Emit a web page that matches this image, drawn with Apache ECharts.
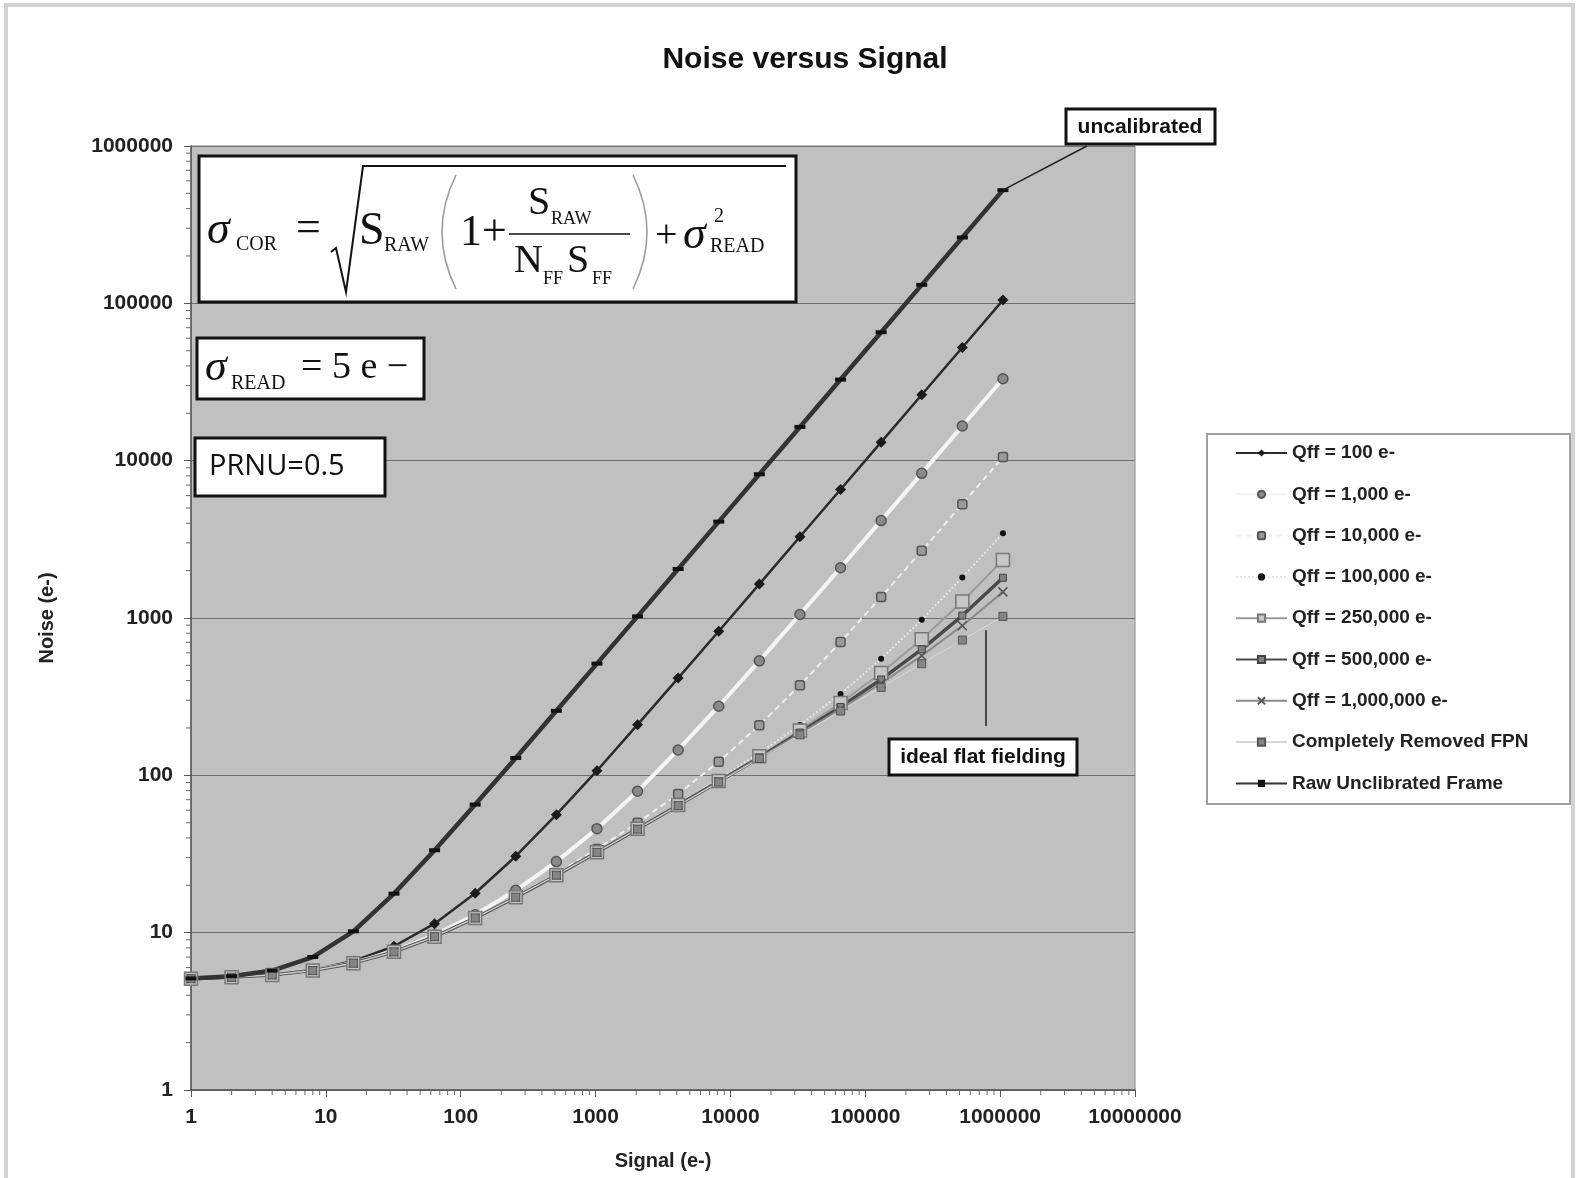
<!DOCTYPE html>
<html>
<head>
<meta charset="utf-8">
<title>Noise versus Signal</title>
<script src="https://cdn.jsdelivr.net/npm/echarts@6/dist/echarts.min.js"></script>
<style>
html, body { margin: 0; padding: 0; background: #fff; }
#main { width: 1581px; height: 1178px; }
</style>
</head>
<body>
<div id="main"></div>
<script>
// signal levels (e-), one point per power of two
const signal = [1, 2, 4, 8, 16, 32, 64, 128, 256, 512, 1024, 2048, 4096, 8192, 16384,
    32768, 65536, 131072, 262144, 524288, 1048576];

// noise (e-)
const qff100 = [5.10, 5.20, 5.40, 5.80, 6.60, 8.20, 11.4, 17.8, 30.6, 56.2, 107, 210, 415, 824, 1643,
    3282, 6559, 13112, 26219, 52434, 104863];
const qff1k = [5.10, 5.20, 5.39, 5.75, 6.42, 7.62, 9.65, 13.0, 18.6, 28.3, 45.8, 79.2, 145, 275, 534,
    1052, 2088, 4161, 8306, 16595, 33175];
const qff10k = [5.10, 5.20, 5.39, 5.75, 6.41, 7.56, 9.46, 12.4, 17.0, 23.7, 34.0, 49.9, 76.2, 122, 208,
    374, 704, 1360, 2671, 5293, 10536];
const qff100k = [5.10, 5.20, 5.39, 5.74, 6.40, 7.55, 9.44, 12.4, 16.8, 23.2, 32.6, 46.0, 65.5, 94.3, 138,
    209, 329, 550, 974, 1809, 3456];
const qff250k = [5.10, 5.20, 5.39, 5.74, 6.40, 7.55, 9.43, 12.4, 16.8, 23.2, 32.5, 45.7, 64.7, 92.1, 132,
    193, 288, 447, 733, 1274, 2334];
const qff500k = [5.10, 5.20, 5.39, 5.74, 6.40, 7.55, 9.43, 12.4, 16.8, 23.2, 32.4, 45.6, 64.5, 91.4, 130,
    187, 272, 407, 632, 1036, 1802];
const qff1m = [5.10, 5.20, 5.39, 5.74, 6.40, 7.55, 9.43, 12.4, 16.8, 23.2, 32.4, 45.6, 64.3, 91.0, 129,
    184, 264, 385, 575, 894, 1466];
const removedFpn = [5.10, 5.20, 5.39, 5.74, 6.40, 7.55, 9.43, 12.4, 16.8, 23.2, 32.4, 45.5, 64.2, 90.6, 128,
    181, 256, 362, 512, 724, 1024];
const rawFrame = [5.12, 5.29, 5.74, 7.00, 10.2, 17.7, 33.4, 65.2, 129, 257, 513, 1024, 2049, 4097, 8193,
    16385, 32769, 65537, 131073, 262145, 524289];

const legendNames = ['Qff = 100 e-', 'Qff = 1,000 e-', 'Qff = 10,000 e-', 'Qff = 100,000 e-',
    'Qff = 250,000 e-', 'Qff = 500,000 e-', 'Qff = 1,000,000 e-', 'Completely Removed FPN',
    'Raw Unclibrated Frame'];

// minor tick positions (2..9 in each decade)
const minorX = [];
for (let d = 0; d < 7; d++) for (let m = 2; m <= 9; m++) minorX.push(m * Math.pow(10, d));
const minorY = [];
for (let d = 0; d < 6; d++) for (let m = 2; m <= 9; m++) minorY.push(m * Math.pow(10, d));

const SANS = '"Liberation Sans", Arial, sans-serif';
const SERIF = '"Liberation Serif", "DejaVu Serif", serif';

const pts = ys => signal.map((s, i) => [s, ys[i]]);

// text helper: y given as baseline
function tx(x, base, str, size, opt) {
    opt = opt || {};
    return {
        type: 'text', x: x, y: base - 0.34 * size, z: 12,
        style: {
            text: str, fontSize: size, fontFamily: opt.family || SERIF,
            fontStyle: opt.italic ? 'italic' : 'normal', fontWeight: opt.bold ? 'bold' : 'normal',
            fill: '#111', align: opt.align || 'left', verticalAlign: 'middle'
        }
    };
}
function box(x, y, w, h, lw) {
    return { type: 'rect', z: 11, shape: { x: x, y: y, width: w, height: h },
        style: { fill: '#fff', stroke: '#111', lineWidth: lw || 3 } };
}

const graphics = [
    { type: 'rect', z: 0, shape: { x: 6, y: 5, width: 1567, height: 1190 },
        style: { fill: 'none', stroke: '#d2d2d2', lineWidth: 4 } },
    // formula
    box(199, 156, 597, 146),
    tx(207, 247, 'σ', 46, { italic: true }),
    tx(236, 252, 'COR', 20),
    tx(296, 244, '=', 44),
    { type: 'polyline', z: 12, shape: { points: [[331, 252], [336, 248], [346, 292], [363, 166], [786, 166]] },
        style: { stroke: '#111', lineWidth: 2, fill: null } },
    tx(359, 248, 'S', 46),
    tx(384, 253, 'RAW', 20),
    { type: 'bezierCurve', z: 12, shape: { x1: 456, y1: 175, x2: 456, y2: 289, cpx1: 428, cpy1: 232 },
        style: { stroke: '#999', lineWidth: 1.5, fill: null } },
    tx(460, 248, '1+', 44),
    tx(528, 217, 'S', 40),
    tx(551, 225, 'RAW', 18),
    { type: 'line', z: 12, shape: { x1: 509, y1: 234, x2: 630, y2: 234 }, style: { stroke: '#111', lineWidth: 1.5 } },
    tx(514, 275, 'N', 40),
    tx(543, 285, 'FF', 18),
    tx(567, 275, 'S', 40),
    tx(592, 285, 'FF', 18),
    { type: 'bezierCurve', z: 12, shape: { x1: 633, y1: 175, x2: 633, y2: 289, cpx1: 661, cpy1: 232 },
        style: { stroke: '#999', lineWidth: 1.5, fill: null } },
    tx(655, 250, '+', 40),
    tx(683, 252, 'σ', 46, { italic: true }),
    tx(714, 224, '2', 20),
    tx(710, 254, 'READ', 20),
    // read noise
    box(197, 338, 227, 61),
    tx(205, 383, 'σ', 44, { italic: true }),
    tx(231, 391, 'READ', 20),
    tx(301, 381, '= 5 e −', 38),
    // PRNU
    box(195, 438, 190, 58),
    tx(209, 477, 'PRNU=0.5', 29, { family: '"Open Sans", sans-serif' }),
    // callouts
    box(1066, 109, 149, 35),
    tx(1140, 134, 'uncalibrated', 21, { family: SANS, bold: true, align: 'center' }),
    box(889, 739, 188, 36),
    tx(983, 764, 'ideal flat fielding', 21, { family: SANS, bold: true, align: 'center' }),
    // legend frame
    { type: 'rect', z: 3, shape: { x: 1207, y: 434, width: 363, height: 370 },
        style: { fill: '#fff', stroke: '#a0a0a0', lineWidth: 2 } }
];

function lineSeries(name, ys, ls, sym) {
    return Object.assign({
        type: 'line', name: name, data: pts(ys), smooth: false, z: 3,
        lineStyle: ls, showSymbol: true, emphasis: { disabled: true }
    }, sym);
}

const series = [
    lineSeries(legendNames[0], qff100, { color: '#2a2a2a', width: 2.5 },
        { symbol: 'diamond', symbolSize: 11, itemStyle: { color: '#1a1a1a' } }),
    lineSeries(legendNames[1], qff1k, { color: '#f4f4f4', width: 4 },
        { symbol: 'circle', symbolSize: 10, itemStyle: { color: '#8a8a8a', borderColor: '#555', borderWidth: 1.5 } }),
    lineSeries(legendNames[2], qff10k, { color: '#efefef', width: 2, type: [6, 4] },
        { symbol: 'roundRect', symbolSize: 9, itemStyle: { color: '#9a9a9a', borderColor: '#555', borderWidth: 1.5 } }),
    lineSeries(legendNames[3], qff100k, { color: '#e6e6e6', width: 2, type: 'dotted' },
        { symbol: 'circle', symbolSize: 6, itemStyle: { color: '#111' } }),
    lineSeries(legendNames[4], qff250k, { color: '#9a9a9a', width: 2 },
        { symbol: 'rect', symbolSize: 13, itemStyle: { color: '#c6c6c6', borderColor: '#777', borderWidth: 1.5 } }),
    lineSeries(legendNames[5], qff500k, { color: '#4a4a4a', width: 3.5 },
        { symbol: 'rect', symbolSize: 7, itemStyle: { color: '#808080', borderColor: '#444', borderWidth: 1 } }),
    lineSeries(legendNames[6], qff1m, { color: '#8a8a8a', width: 2 },
        { symbol: 'path://M0,0L10,10M10,0L0,10', symbolSize: 9,
            itemStyle: { color: '#666', borderColor: '#555', borderWidth: 1.5 } }),
    lineSeries(legendNames[7], removedFpn, { color: '#d8d8d8', width: 1 },
        { symbol: 'rect', symbolSize: 8, itemStyle: { color: '#858585', borderColor: '#555', borderWidth: 1 },
            markLine: { silent: true, symbol: ['none', 'none'], label: { show: false },
                lineStyle: { color: '#222', width: 1.5, type: 'solid' },
                data: [[{ coord: [7.82e5, 835] }, { coord: [7.82e5, 206] }]] } }),
    lineSeries(legendNames[8], rawFrame, { color: '#333', width: 4.5 },
        { symbol: 'rect', symbolSize: [11, 4], itemStyle: { color: '#111' },
            markLine: { silent: true, symbol: ['none', 'none'], label: { show: false },
                lineStyle: { color: '#222', width: 1.5, type: 'solid' },
                data: [[{ coord: [1048576, 524289] }, { coord: [4.4e6, 1e6] }]] } }),
    {
        type: 'custom', name: 'xminor', silent: true, clip: false, z: 1,
        data: minorX.map(v => [v, 1]),
        renderItem: function (params, api) {
            const p = api.coord([api.value(0), 1]);
            return { type: 'line', shape: { x1: p[0], y1: p[1], x2: p[0], y2: p[1] + 5 },
                style: { stroke: '#666', lineWidth: 1 } };
        }
    },
    {
        type: 'custom', name: 'yminor', silent: true, clip: false, z: 1,
        data: minorY.map(v => [1, v]),
        renderItem: function (params, api) {
            const p = api.coord([1, api.value(1)]);
            return { type: 'line', shape: { x1: p[0] - 5, y1: p[1], x2: p[0], y2: p[1] },
                style: { stroke: '#666', lineWidth: 1 } };
        }
    }
];

const axisLabelStyle = { fontFamily: SANS, fontWeight: 'bold', fontSize: 21, color: '#222' };

const chart = echarts.init(document.getElementById('main'));
chart.setOption({
    backgroundColor: '#fff',
    animation: false,
    title: {
        text: 'Noise versus Signal', left: 800, top: 40, textAlign: 'center',
        textStyle: { fontFamily: SANS, fontWeight: 'bold', fontSize: 30, color: '#111' }
    },
    grid: {
        left: 191, top: 146, right: 446, bottom: 88, show: true,
        backgroundColor: '#c0c0c0', borderColor: '#8a8a8a', borderWidth: 1
    },
    legend: {
        data: legendNames, orient: 'vertical', left: 1235, top: 443, padding: 0,
        itemWidth: 51, itemHeight: 9, itemGap: 21.3, z: 5,
        textStyle: { fontFamily: SANS, fontWeight: 'bold', fontSize: 19, color: '#222', lineHeight: 20 }
    },
    xAxis: {
        type: 'log', logBase: 10, min: 1, max: 1e7,
        name: 'Signal (e-)', nameLocation: 'middle', nameGap: 61,
        nameTextStyle: Object.assign({}, axisLabelStyle, { fontSize: 20 }),
        axisLine: { lineStyle: { color: '#555', width: 1.5 } },
        axisTick: { show: true, inside: false, length: 7, lineStyle: { color: '#555' } },
        axisLabel: Object.assign({ margin: 17, formatter: v => String(Math.round(v)) }, axisLabelStyle),
        splitLine: { show: false }
    },
    yAxis: {
        type: 'log', logBase: 10, min: 1, max: 1e6,
        name: 'Noise (e-)', nameLocation: 'middle', nameRotate: 90, nameGap: 134,
        nameTextStyle: Object.assign({}, axisLabelStyle, { fontSize: 20 }),
        axisLine: { show: true, lineStyle: { color: '#555', width: 1.5 } },
        axisTick: { show: true, inside: false, length: 7, lineStyle: { color: '#555' } },
        axisLabel: Object.assign({ margin: 18, formatter: v => String(Math.round(v)) }, axisLabelStyle),
        splitLine: { show: true, lineStyle: { color: '#6e6e6e', width: 1 } }
    },
    graphic: graphics,
    series: series
});
</script>
</body>
</html>
